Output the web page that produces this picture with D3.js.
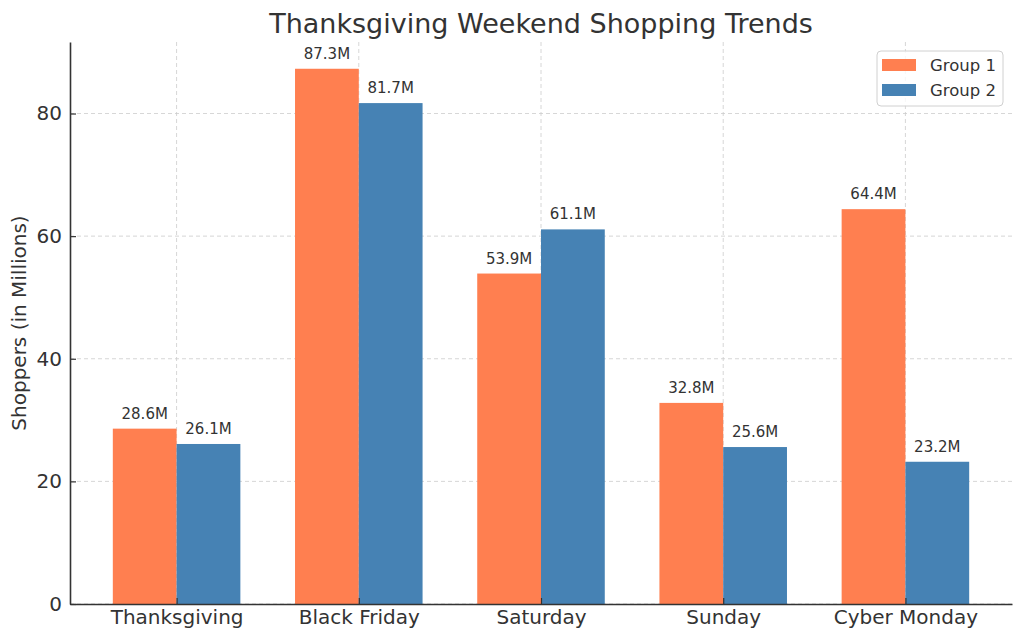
<!DOCTYPE html>
<html>
<head>
<meta charset="utf-8">
<script src="https://cdn.jsdelivr.net/npm/d3@7"></script>
<style>
  body { margin: 0; background: #fff; }
  svg { display: block; font-family: "DejaVu Sans", sans-serif; }
</style>
</head>
<body>
<svg id="chart"></svg>
<script>
var days = ["Thanksgiving", "Black Friday", "Saturday", "Sunday", "Cyber Monday"]
var group1 = [28.6, 87.3, 53.9, 32.8, 64.4]
var group2 = [26.1, 81.7, 61.1, 25.6, 23.2]
var seriesNames = ["Group 1", "Group 2"]
var yTicks = [0, 20, 40, 60, 80]

var W = 1024, H = 642
var margin = { top: 42, right: 12, bottom: 38, left: 70 },
  width = W - margin.left - margin.right,
  height = H - margin.top - margin.bottom

var colors = ["#ff7f50", "#4682b4"]
var textColor = "#333333"
var barW = 0.35

var svg = d3.select("#chart").attr("width", W).attr("height", H)
var g = svg.append("g")
  .attr("transform", "translate(" + margin.left + "," + margin.top + ")")

// same limits as matplotlib's auto margins
var pad = 0.05 * (days.length - 1 + 2 * barW)
var x = d3.scaleLinear()
  .domain([-barW - pad, days.length - 1 + barW + pad])
  .range([0, width])
var y = d3.scaleLinear()
  .domain([0, d3.max(group1.concat(group2)) * 1.05])
  .range([height, 0])

// grid
g.append("g").selectAll("line")
  .data(yTicks)
  .enter().append("line")
  .attr("x1", 0).attr("x2", width)
  .attr("y1", function(d) { return y(d) }).attr("y2", function(d) { return y(d) })
  .attr("stroke", "#cccccc").attr("stroke-width", 0.8).attr("stroke-dasharray", "4,3")
g.append("g").selectAll("line")
  .data(days)
  .enter().append("line")
  .attr("x1", function(d, i) { return x(i) }).attr("x2", function(d, i) { return x(i) })
  .attr("y1", 0).attr("y2", height)
  .attr("stroke", "#cccccc").attr("stroke-width", 0.8).attr("stroke-dasharray", "4,3")

var series = [group1, group2]
var offsets = [-barW / 2, barW / 2]

series.forEach(function(vals, s) {
  g.append("g").selectAll("rect")
    .data(vals)
    .enter().append("rect")
    .attr("x", function(d, i) { return x(i + offsets[s] - barW / 2) })
    .attr("width", x(barW) - x(0))
    .attr("y", function(d) { return y(d) })
    .attr("height", function(d) { return y(0) - y(d) })
    .attr("fill", colors[s])

  g.append("g").selectAll("text")
    .data(vals)
    .enter().append("text")
    .attr("x", function(d, i) { return x(i + offsets[s]) })
    .attr("y", function(d) { return y(d) - 10 })
    .attr("text-anchor", "middle")
    .attr("fill", textColor)
    .style("font-size", "15px")
    .text(function(d) { return d.toFixed(1) + "M" })
})

// axes
var yAxis = g.append("g")
  .call(d3.axisLeft(y).tickValues(yTicks).tickSizeInner(-6).tickSizeOuter(0).tickPadding(8))
var xAxis = g.append("g")
  .attr("transform", "translate(0," + height + ")")
  .call(d3.axisBottom(x).tickValues(d3.range(days.length))
    .tickFormat(function(i) { return days[i] }).tickSizeInner(-6).tickSizeOuter(0).tickPadding(9))

;[yAxis, xAxis].forEach(function(a) {
  a.select(".domain").attr("stroke", textColor).attr("stroke-width", 1.6)
  a.selectAll(".tick line").attr("stroke", textColor).attr("stroke-width", 1.2)
  a.selectAll(".tick text").attr("fill", textColor)
    .style("font-size", "20px").style("font-family", "DejaVu Sans, sans-serif")
})
yAxis.selectAll(".tick text").attr("x", -8)
xAxis.selectAll(".tick text").attr("y", 6)

// y label
svg.append("text")
  .attr("transform", "translate(26," + (margin.top + height / 2) + ") rotate(-90)")
  .attr("text-anchor", "middle")
  .attr("fill", textColor)
  .style("font-size", "20px")
  .text("Shoppers (in Millions)")

// title
svg.append("text")
  .attr("x", margin.left + width / 2)
  .attr("y", 33)
  .attr("text-anchor", "middle")
  .attr("fill", textColor)
  .style("font-size", "27px")
  .text("Thanksgiving Weekend Shopping Trends")

// legend
var legend = svg.append("g").attr("transform", "translate(877,51)")
legend.append("rect")
  .attr("width", 126).attr("height", 55)
  .attr("rx", 4)
  .attr("fill", "#ffffff").attr("fill-opacity", 0.8)
  .attr("stroke", "#d0d0d0").attr("stroke-width", 1)
seriesNames.forEach(function(name, i) {
  legend.append("rect")
    .attr("x", 5).attr("y", 8 + i * 25)
    .attr("width", 34).attr("height", 12)
    .attr("fill", colors[i])
  legend.append("text")
    .attr("x", 53).attr("y", 14 + i * 25)
    .attr("dy", "0.35em")
    .attr("fill", textColor)
    .style("font-size", "16.5px")
    .text(name)
})
</script>
</body>
</html>
